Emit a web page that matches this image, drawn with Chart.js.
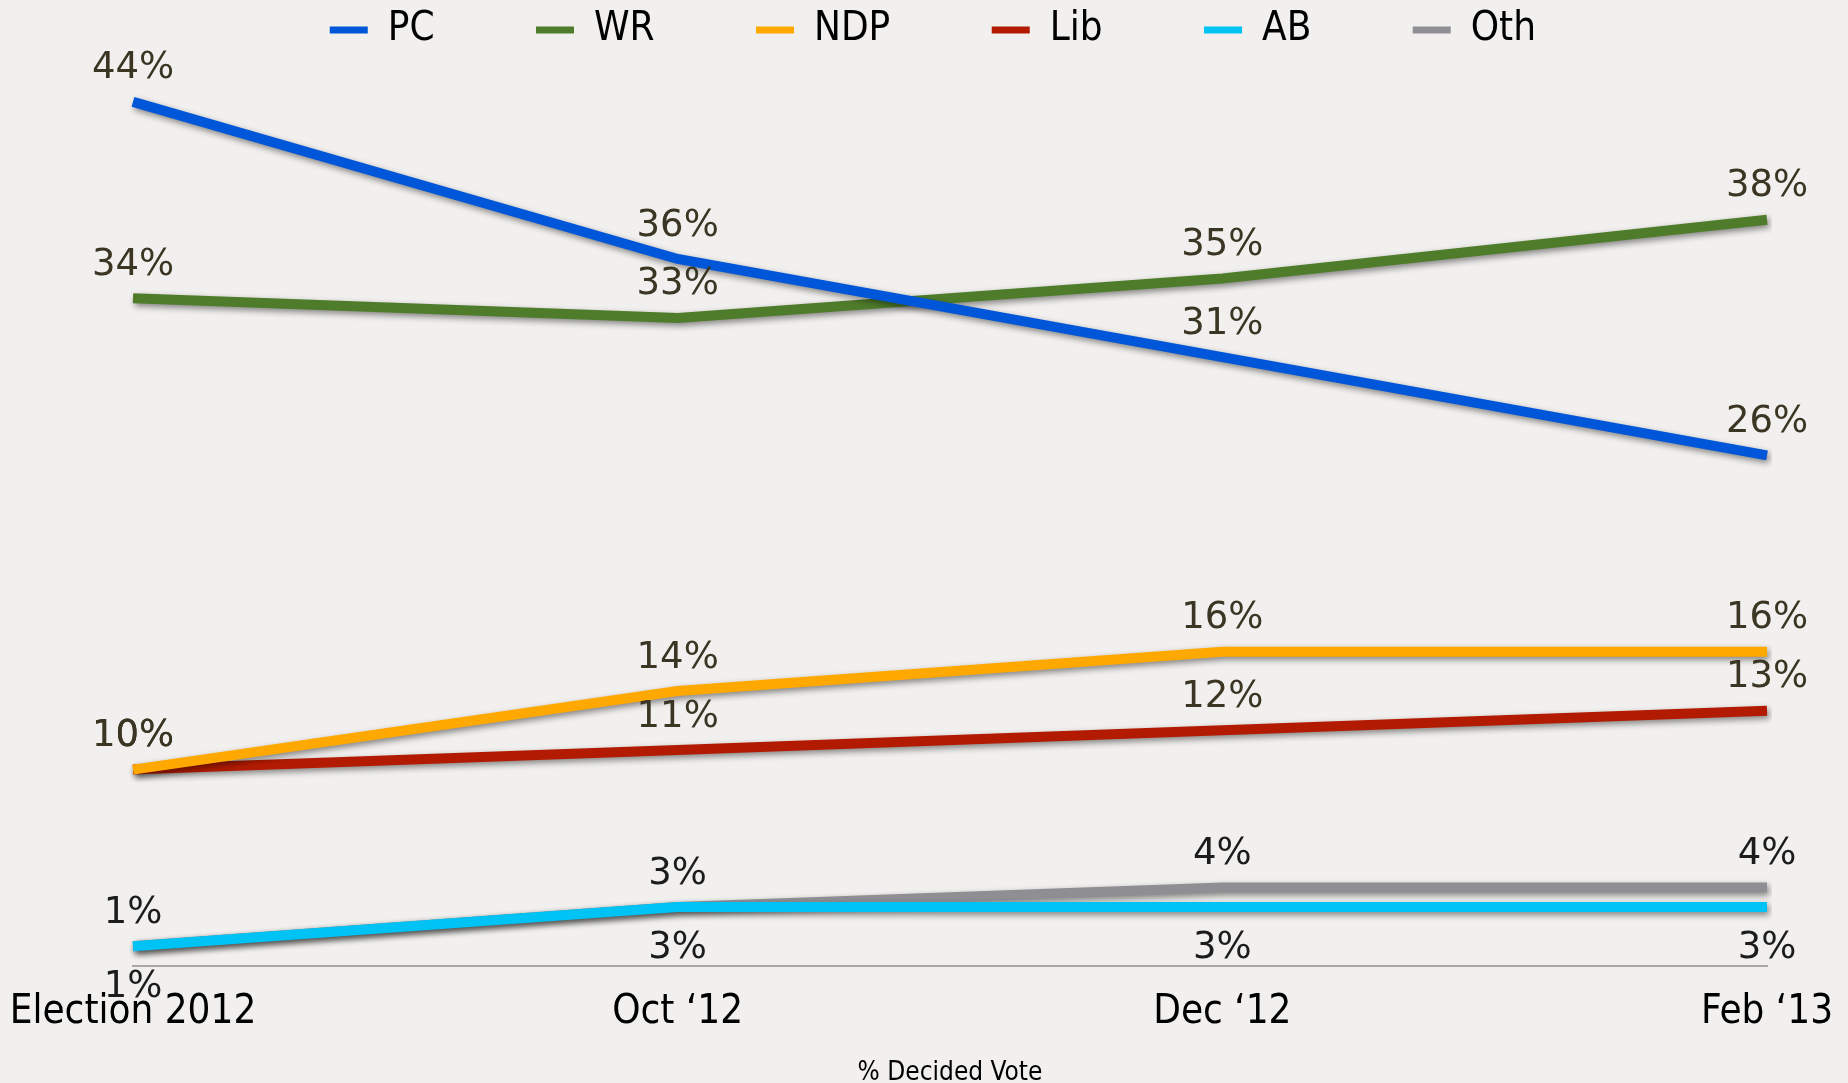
<!DOCTYPE html>
<html>
<head>
<meta charset="utf-8">
<title>% Decided Vote</title>
<script src="https://cdn.jsdelivr.net/npm/chart.js@4.4.1/dist/chart.umd.min.js"></script>
<style>
  html, body { margin: 0; padding: 0; background: #f1f0ee; }
  #wrap { width: 1848px; height: 1083px; position: relative; }
</style>
</head>
<body>
<div id="wrap"><canvas id="vote-chart"></canvas></div>
<script>
// poll periods + decided vote share per party (%)
const periods = ['Election 2012', 'Oct \u201812', 'Dec \u201812', 'Feb \u201813'];
const pcVotes = [44, 36, 31, 26];
const wrVotes = [34, 33, 35, 38];
const ndpVotes = [10, 14, 16, 16];
const libVotes = [10, 11, 12, 13];
const abVotes = [1, 3, 3, 3];
const othVotes = [1, 3, 4, 4];

const narrowFont = "'DejaVu Sans Condensed', 'Liberation Sans Narrow', 'DejaVu Sans', sans-serif";

const makeLine = (label, data, color, extra) => Object.assign({
    label: label,
    data: data,
    borderColor: color,
    backgroundColor: color,
    borderWidth: 10,
    pointRadius: 0,
    tension: 0,
    labelColor: '#3b3523'
}, extra || {});

// drop shadow under each line
const lineShadow = {
    id: 'lineShadow',
    beforeDatasetDraw(chart) {
        const c = chart.ctx;
        c.save();
        c.shadowColor = 'rgba(0, 0, 0, 0.45)';
        c.shadowBlur = 6;
        c.shadowOffsetX = 2;
        c.shadowOffsetY = 3;
    },
    afterDatasetDraw(chart) {
        chart.ctx.restore();
    }
};

// "44%" style labels next to every point
const valueLabels = {
    id: 'valueLabels',
    afterDatasetsDraw(chart) {
        const ctx = chart.ctx;
        ctx.save();
        ctx.font = "37px 'DejaVu Sans', sans-serif";
        ctx.textAlign = 'center';
        ctx.textBaseline = 'middle';
        chart.data.datasets.forEach((ds, i) => {
            chart.getDatasetMeta(i).data.forEach((pt, j) => {
                ctx.fillStyle = ds.labelColor;
                ctx.fillText(ds.data[j] + '%', pt.x, pt.y + (ds.labelBelow ? 41 : -33));
            });
        });
        ctx.restore();
    }
};

new Chart(document.getElementById('vote-chart'), {
    type: 'line',
    data: {
        labels: periods,
        datasets: [
            makeLine('PC', pcVotes, '#0056d8'),
            makeLine('WR', wrVotes, '#4f7c2b'),
            makeLine('NDP', ndpVotes, '#ffa800'),
            makeLine('Lib', libVotes, '#b21b02'),
            makeLine('AB', abVotes, '#00c3f5', { labelBelow: true, labelColor: '#1c1c1c' }),
            makeLine('Oth', othVotes, '#8f8e93', { labelColor: '#1c1c1c' })
        ]
    },
    options: {
        responsive: true,
        maintainAspectRatio: false,
        animation: false,
        layout: {
            padding: { left: 133, right: 81, top: 0, bottom: 0 }
        },
        scales: {
            x: {
                // keep the plot edges where the layout padding puts them
                afterFit: (scale) => {
                    scale.paddingLeft = 0;
                    scale.paddingRight = 0;
                },
                grid: { display: false },
                border: { display: true, color: '#a8a8a8', width: 2 },
                ticks: {
                    color: '#000',
                    padding: 15,
                    font: { family: narrowFont, size: 40, lineHeight: 1.2 }
                },
                title: {
                    display: true,
                    text: '% Decided Vote',
                    color: '#000',
                    padding: { top: 8, bottom: -3 },
                    font: { family: narrowFont, size: 26, lineHeight: 1 }
                }
            },
            y: {
                display: false,
                min: 0,
                max: 46.13
            }
        },
        plugins: {
            tooltip: { enabled: false },
            legend: {
                position: 'top',
                labels: {
                    color: '#000',
                    boxWidth: 38,
                    boxHeight: 7,
                    padding: 10,
                    font: { family: narrowFont, size: 40 },
                    generateLabels: (chart) => Chart.defaults.plugins.legend.labels.generateLabels(chart).map((item, i, all) => {
                        // extra gap between items
                        item.text = item.text + ' '.repeat(i < all.length - 1 ? 8 : 3);
                        item.lineWidth = 0;
                        return item;
                    })
                }
            }
        }
    },
    plugins: [lineShadow, valueLabels]
});
</script>
</body>
</html>
